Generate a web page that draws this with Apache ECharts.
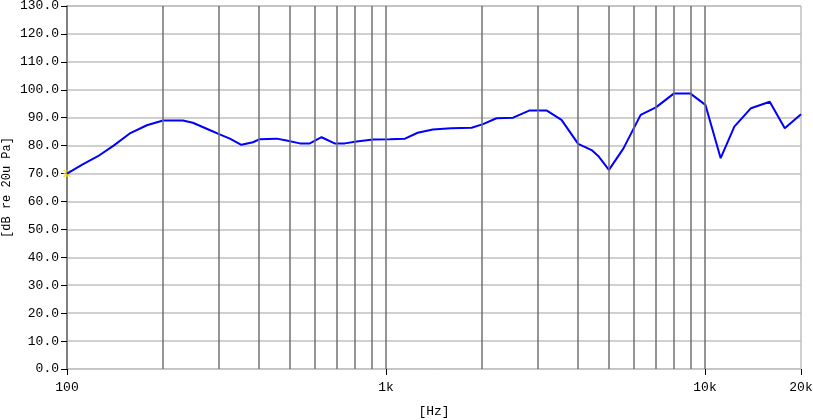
<!DOCTYPE html>
<html>
<head>
<meta charset="utf-8">
<script src="https://cdn.jsdelivr.net/npm/echarts@6/dist/echarts.min.js"></script>
<style>html,body{margin:0;padding:0;background:#fff}#c{width:813px;height:420px}</style>
</head>
<body>
<div id="c"></div>
<script>
var freqs = [100, 112, 125, 140, 158, 178, 200, 231, 248, 281, 301, 324, 352, 383, 402, 454, 488, 537, 577, 628, 690, 743, 809, 912, 1029, 1147, 1257, 1402, 1600, 1855, 2015, 2220, 2503, 2823, 3185, 3550, 4004, 4411, 4627, 4999, 5553, 6286, 7018, 7999, 8987, 10030, 11200, 12360, 13940, 15960, 17790, 20000];
var levels = [70.0, 73.3, 76.2, 80.0, 84.5, 87.3, 89.0, 89.0, 88.2, 85.5, 84.0, 82.5, 80.3, 81.2, 82.3, 82.5, 81.8, 80.8, 80.8, 83.0, 80.8, 80.8, 81.5, 82.2, 82.3, 82.5, 84.6, 85.8, 86.2, 86.4, 87.7, 89.8, 90.0, 92.6, 92.6, 89.2, 80.6, 78.4, 76.3, 71.3, 79.0, 91.0, 93.7, 98.7, 98.7, 94.6, 75.5, 86.8, 93.4, 95.7, 86.2, 91.2];
var gridFreqs = [200, 300, 400, 500, 600, 700, 800, 900, 1000, 2000, 3000, 4000, 5000, 6000, 7000, 8000, 9000, 10000];
var xTickValues = [100, 1000, 10000, 20000];
var xTickLabels = {100: '100', 1000: '1k', 10000: '10k', 20000: '20k'};

var FONT = 'Liberation Mono';
var chart = echarts.init(document.getElementById('c'));
var lineData = freqs.map(function (f, i) { return [f, levels[i]]; });

chart.setOption({
  animation: false,
  grid: { left: 67, right: 12, top: 6, bottom: 51, outerBoundsMode: 'none', containLabel: false,
    show: true, borderColor: '#a0a0a0', borderWidth: 1 },
  xAxis: {
    type: 'log', logBase: 10, min: 100, max: 20000,
    name: '[Hz]', nameLocation: 'middle', nameGap: 36,
    nameTextStyle: { fontFamily: FONT, fontSize: 13, color: '#000' },
    axisLine: { show: true, onZero: false, lineStyle: { color: '#c8c8c8', width: 1 } },
    axisTick: { show: true, inside: false, length: 6, customValues: xTickValues, lineStyle: { color: '#000' } },
    axisLabel: { customValues: xTickValues, fontFamily: FONT, fontSize: 13, color: '#000', margin: 12,
      formatter: function (v) { return xTickLabels[Math.round(v)] || ''; } },
    splitLine: { show: false }
  },
  yAxis: {
    type: 'value', min: 0, max: 130, interval: 10,
    name: '[dB re 20u Pa]', nameLocation: 'middle', nameGap: 54, nameRotate: 90, nameMoveOverlap: false,
    nameTextStyle: { fontFamily: FONT, fontSize: 12, color: '#000' },
    axisLine: { show: true, lineStyle: { color: '#808080', width: 2 } },
    axisTick: { show: true, inside: false, length: 6, lineStyle: { color: '#000' } },
    axisLabel: { fontFamily: FONT, fontSize: 13, color: '#000', margin: 8,
      formatter: function (v) { return v.toFixed(1); } },
    splitLine: { show: true, lineStyle: { color: '#c0c0c0', width: 1.5 } }
  },
  series: [
    {
      type: 'line', data: lineData, showSymbol: false, smooth: false,
      lineStyle: { color: '#0000ff', width: 2 }, z: 3,
      markLine: {
        silent: true, symbol: ['none', 'none'], animation: false,
        label: { show: false },
        lineStyle: { color: '#707070', width: 1.5, type: 'solid' },
        data: gridFreqs.map(function (f) { return { xAxis: f }; })
      }
    },
    {
      type: 'scatter', data: [[freqs[0], levels[0]]], symbol: 'path://M0,0L10,10M10,0L0,10M5,0L5,10M0,5L10,5',
      symbolSize: 7, itemStyle: { color: 'none', borderColor: '#ffd800', borderWidth: 1.2 }, z: 2
    }
  ]
});
</script>
</body>
</html>
